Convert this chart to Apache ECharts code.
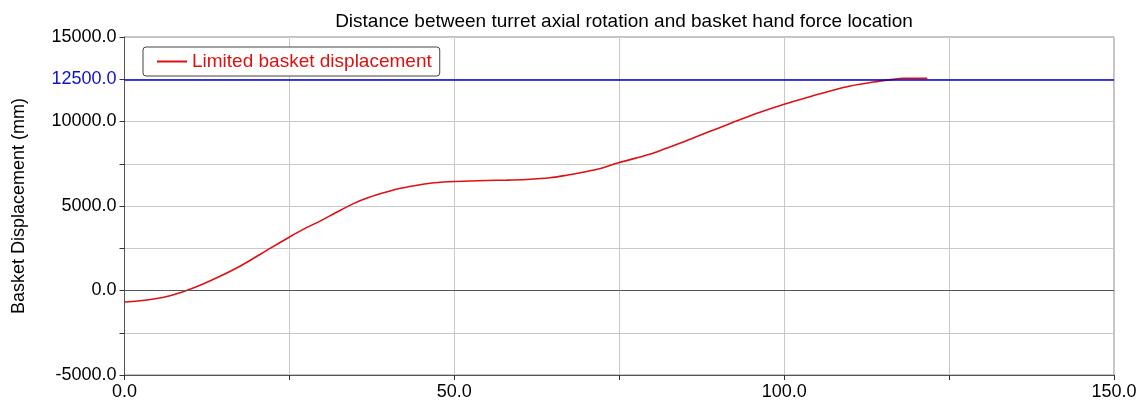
<!DOCTYPE html>
<html>
<head>
<meta charset="utf-8">
<script src="https://cdn.jsdelivr.net/npm/echarts@6/dist/echarts.min.js"></script>
<style>html,body{margin:0;padding:0;background:#fff}#c{width:1143px;height:406px}</style>
</head>
<body>
<div id="c"></div>
<script>
const titleText = 'Distance between turret axial rotation and basket hand force location';
const seriesName = 'Limited basket displacement';
const yAxisName = 'Basket Displacement (mm)';
const limitValue = 12500;
const xValues = [0, 2, 4.4, 6.9, 9.4, 12, 14.4, 17, 19.4, 22, 24.9, 27, 29.7, 32, 34.7, 37, 39.7, 42, 44.8, 47, 50.1, 54.9, 58, 60.9, 64.5, 67, 69.5, 72, 75, 79.6, 82, 85.2, 88, 92.2, 96, 100, 104, 107.4, 110, 113.5, 116.5, 118, 121.7];
const yValues = [-680, -620, -505, -310, 0, 400, 825, 1330, 1865, 2480, 3140, 3600, 4120, 4600, 5140, 5500, 5825, 6060, 6260, 6380, 6450, 6510, 6530, 6570, 6670, 6820, 7000, 7200, 7570, 8060, 8400, 8865, 9300, 9940, 10500, 11020, 11480, 11850, 12100, 12335, 12495, 12560, 12560];

const font = 'Arial, "Liberation Sans", sans-serif';
const chart = echarts.init(document.getElementById('c'));
chart.setOption({
  animation: false,
  title: {
    text: titleText, left: 619, textAlign: 'center', top: 7,
    textStyle: {fontFamily: font, fontSize: 19, fontWeight: 'normal', color: '#000'}
  },
  legend: {
    left: 143, top: 47, orient: 'vertical',
    borderColor: '#444', borderWidth: 1, borderRadius: 3, backgroundColor: '#fff',
    padding: [5, 8, 5, 14], itemWidth: 30, itemHeight: 2, itemGap: 0,
    icon: 'rect',
    textStyle: {fontFamily: font, fontSize: 19, color: '#dd1111'},
    data: [seriesName]
  },
  grid: {left: 124.5, right: 29, top: 37, bottom: 31, show: true, borderColor: '#888', borderWidth: 1},
  xAxis: {
    type: 'value', min: 0, max: 150, interval: 25,
    axisLine: {show: true, onZero: false, lineStyle: {color: '#555'}},
    axisTick: {show: true, length: 5, lineStyle: {color: '#333'}},
    splitLine: {show: true, lineStyle: {color: '#c8c8c8'}},
    axisLabel: {
      fontFamily: font, fontSize: 18, color: '#000', margin: 8,
      formatter: v => (v % 50 === 0 ? v.toFixed(1) : '')
    }
  },
  yAxis: {
    type: 'value', min: -5000, max: 15000, interval: 2500,
    name: yAxisName, nameLocation: 'middle', nameGap: 96, nameRotate: 90,
    nameTextStyle: {fontFamily: font, fontSize: 18, color: '#000'},
    axisLine: {show: true, onZero: false, lineStyle: {color: '#555'}},
    axisTick: {show: true, length: 5, lineStyle: {color: '#333'}},
    splitLine: {show: true, lineStyle: {color: '#c8c8c8'}},
    axisLabel: {
      fontFamily: font, fontSize: 18, color: '#000', margin: 8,
      formatter: v => (v === limitValue ? '{b|' + v.toFixed(1) + '}' : (v % 5000 === 0 ? v.toFixed(1) : '')),
      rich: {b: {color: '#1010cc', fontFamily: font, fontSize: 18}}
    }
  },
  series: [{
    name: seriesName, type: 'line', symbol: 'none', smooth: 0.3,
    lineStyle: {color: '#e01010', width: 1.6},
    itemStyle: {color: '#e01010'},
    data: xValues.map((x, i) => [x, yValues[i]]),
    markLine: {
      silent: true, symbol: 'none', label: {show: false},
      data: [
        {yAxis: 0, lineStyle: {color: '#555', width: 1, type: 'solid'}},
        {yAxis: limitValue, lineStyle: {color: '#0000cc', width: 1.5, type: 'solid'}}
      ]
    },
    z: 3
  }]
});
</script>
</body>
</html>
